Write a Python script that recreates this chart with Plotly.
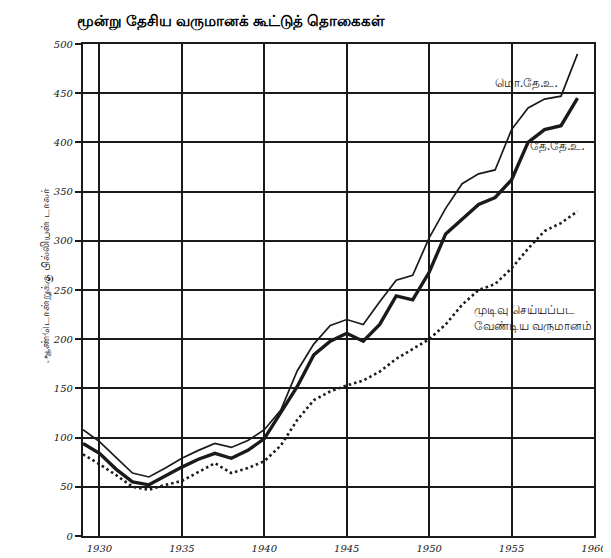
import plotly.graph_objects as go

# Data (billion dollars per year)
years = list(range(1929, 1960))

gnp = [108, 96, 80, 64, 60, 69, 79, 87, 94, 90, 97, 108, 128, 168, 195, 214,
       220, 215, 238, 260, 265, 303, 333, 358, 368, 372, 413, 435, 444, 447, 490]

nnp = [94, 84, 68, 55, 52, 61, 70, 78, 84, 79, 87, 99, 125, 152, 184, 198,
       206, 198, 215, 244, 240, 268, 307, 322, 337, 344, 362, 400, 413, 417, 445]

disposable = [83, 73, 62, 50, 47, 52, 56, 65, 74, 64, 69, 76, 92, 118, 138, 147,
              153, 158, 167, 180, 190, 200, 215, 235, 250, 256, 272, 292, 310, 318, 330]

x_ticks = [1930, 1935, 1940, 1945, 1950, 1955, 1960]
y_ticks = [0, 50, 100, 150, 200, 250, 300, 350, 400, 450, 500]

title_text = "மூன்று தேசிய வருமானக் கூட்டுத் தொகைகள்"
y_title = "ஆண்டொன்றுக்கு பில்லியன் டாலர்"

ink = "#1a1a1a"

fig = go.Figure()

fig.add_trace(go.Scatter(x=years, y=gnp, mode="lines",
                         line=dict(color=ink, width=1.7), name="மொ.தே.உ."))
fig.add_trace(go.Scatter(x=years, y=nnp, mode="lines",
                         line=dict(color=ink, width=3.4), name="தே.தே.உ."))
fig.add_trace(go.Scatter(x=years, y=disposable, mode="lines",
                         line=dict(color=ink, width=2.6, dash="2.5px,3px"),
                         name="முடிவு செய்யப்பட வேண்டிய வருமானம்"))

# labels next to the curves
label_font = dict(family="Noto Sans, DejaVu Sans", size=12, color=ink)
fig.add_annotation(x=1955.9, y=461, text="மொ.தே.உ.", showarrow=False, font=label_font)
fig.add_annotation(x=1957.8, y=397, text="தே.தே.உ.", showarrow=False, font=label_font)
fig.add_annotation(x=1956.3, y=222, text="முடிவு செய்யப்பட<br>வேண்டிய வருமானம்",
                   showarrow=False, align="left", font=label_font)

# vertical axis title
fig.add_annotation(xref="paper", yref="paper", x=-0.095, y=0.53, text=y_title,
                   textangle=-90, showarrow=False,
                   font=dict(family="Noto Sans, DejaVu Sans", size=11, color=ink))

tick_font = dict(family="DejaVu Serif", size=10, color=ink, style="italic")

fig.update_layout(
    width=611, height=558,
    margin=dict(l=75, r=13, t=36, b=22),
    paper_bgcolor="white", plot_bgcolor="white",
    showlegend=False,
    title=dict(text="<b>" + title_text + "</b>", xref="container", yref="container",
               x=0.113, xanchor="left", y=0.978, yanchor="middle",
               font=dict(family="Noto Sans, DejaVu Sans", size=15, color="black")),
    xaxis=dict(range=[1929, 1960], tickvals=x_ticks, tickfont=tick_font,
               showgrid=True, gridcolor=ink, gridwidth=2,
               showline=True, linecolor=ink, linewidth=2.2, mirror=True,
               zeroline=False, ticks="", ticklabelstandoff=2),
    yaxis=dict(range=[0, 500], tickvals=y_ticks, tickfont=tick_font,
               showgrid=True, gridcolor=ink, gridwidth=2,
               showline=True, linecolor=ink, linewidth=2.2, mirror=True,
               zeroline=False, ticks="outside", ticklen=6, tickcolor=ink,
               tickwidth=1.5),
)

fig.write_html("out.html")
